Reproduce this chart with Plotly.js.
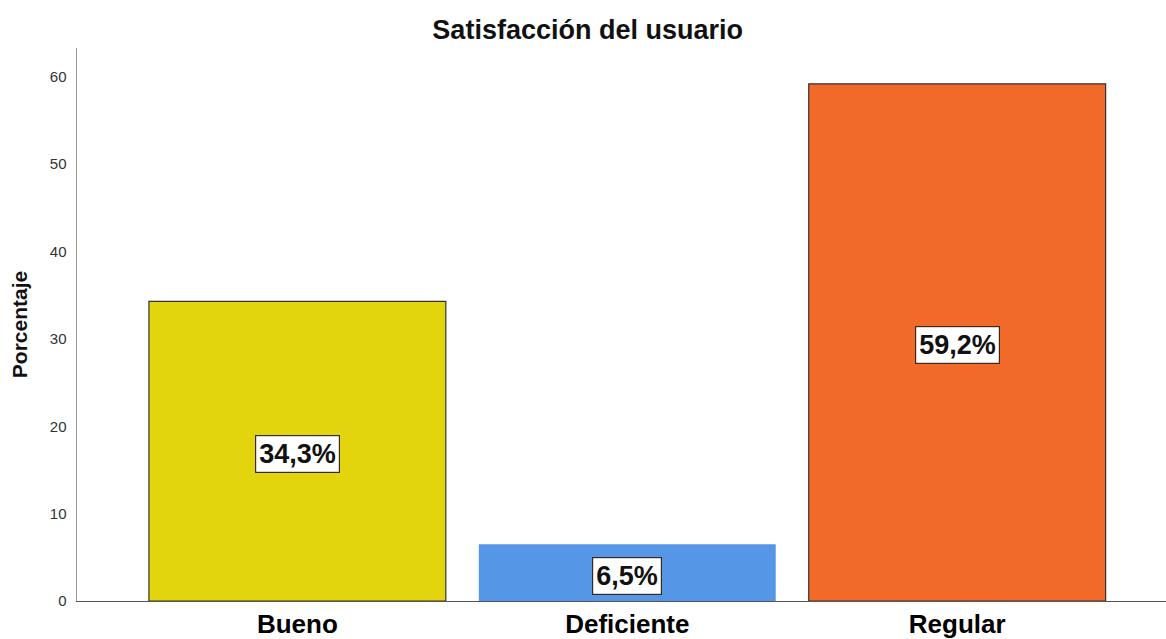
<!DOCTYPE html>
<html>
<head>
<meta charset="utf-8">
<script src="https://cdn.plot.ly/plotly-3.0.1.min.js"></script>
<style>html,body{margin:0;padding:0;background:#fff}#chart{width:1166px;height:639px}</style>
</head>
<body>
<div id="chart"></div>
<script>
const categories = ["Bueno", "Deficiente", "Regular"];
const percentages = [34.3, 6.5, 59.2];
const valueLabels = ["34,3%", "6,5%", "59,2%"];
const barColors = ["#E2D50E", "#5596E6", "#F26A2A"];
const outlineColors = ["#333333", "rgba(0,0,0,0)", "#333333"];
const yTicks = [0, 10, 20, 30, 40, 50, 60];

const FONT = "Liberation Sans, Arial, sans-serif";

const trace = {
  type: "bar",
  x: categories,
  y: percentages,
  marker: {color: barColors, line: {color: outlineColors, width: 1.2}},
  hoverinfo: "none"
};

const annotations = categories.map((c, i) => ({
  x: c, y: percentages[i] / 2, xref: "x", yref: "y", yshift: -3,
  text: valueLabels[i], showarrow: false,
  font: {family: FONT, size: 27, color: "#111", weight: "bold"},
  bgcolor: "#ffffff", bordercolor: "#3a2a1a", borderwidth: 1.2, borderpad: 3
}));

const layout = {
  width: 1166, height: 639,
  margin: {l: 77, r: 0, t: 48, b: 38},
  paper_bgcolor: "#fff", plot_bgcolor: "#fff",
  bargap: 0.1,
  showlegend: false,
  title: {text: "<b>Satisfacción del usuario</b>", x: 0.504, xanchor: "center", y: 0.953, yanchor: "middle",
          font: {family: FONT, size: 27, color: "#111"}},
  xaxis: {
    range: [-0.668, 2.633], showgrid: false, zeroline: false,
    showline: true, linecolor: "#555", linewidth: 1, ticks: "",
    tickfont: {family: FONT, size: 26, color: "#000", weight: "bold"},
    fixedrange: true
  },
  yaxis: {
    range: [0, 63.3], tickvals: yTicks, ticktext: yTicks.map(String),
    showgrid: false, zeroline: false, showline: true, linecolor: "#999", linewidth: 1.5, ticks: "",
    ticklabelstandoff: 6,
    tickfont: {family: FONT, size: 15, color: "#333"},
    title: {text: "<b>Porcentaje</b>", standoff: 16, font: {family: FONT, size: 21, color: "#111"}},
    fixedrange: true
  },
  annotations: annotations
};

Plotly.newPlot("chart", [trace], layout, {displayModeBar: false, staticPlot: true});
</script>
</body>
</html>
